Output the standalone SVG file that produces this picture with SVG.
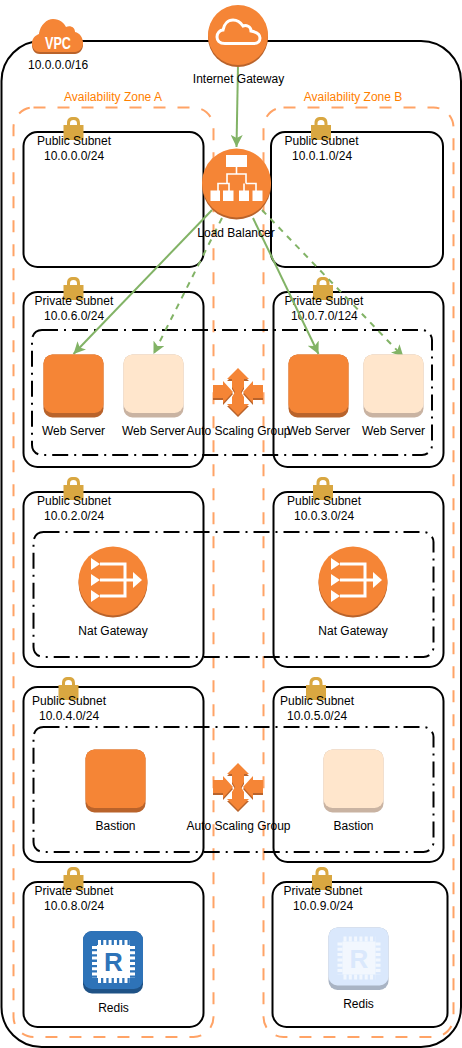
<svg xmlns="http://www.w3.org/2000/svg" xmlns:xlink="http://www.w3.org/1999/xlink" width="462" height="1048" viewBox="0 0 462 1048">
<style>
text{font-family:"Liberation Sans",Arial,sans-serif;font-size:12px;fill:#000}
.m{text-anchor:middle}
.az{font-size:12px;fill:#FF8000;text-anchor:middle}
.vpc{fill:none;stroke:#000;stroke-width:2}
.zone{fill:none;stroke:#FFA366;stroke-width:2;stroke-dasharray:12 12}
.sub{fill:none;stroke:#000;stroke-width:2}
.asg{fill:none;stroke:#000;stroke-width:2;stroke-dasharray:16 6 2 6}
.c{stroke:#82B366;stroke-width:2;fill:none;marker-end:url(#arrow)}
.d{stroke-dasharray:6 6}
.o{fill:#F58536}
.os{fill:#B9632B}
.w{fill:#fff}
.wl{fill:none;stroke:#fff;stroke-width:1.6}
</style>
<defs>
<marker id="arrow" markerUnits="userSpaceOnUse" markerWidth="12" markerHeight="12" viewBox="0 0 12 12" refX="12" refY="6" orient="auto">
<path d="M0 0L12 6L0 12L3 6Z" fill="#82B366"/>
</marker>
<g id="lock">
<path d="M-6.500 7V3.500C-6.500-1.500-4.500-3-0-3C4.500-3 6.500-1.500 6.500 3.500V7H3.500V4C3.500 1 2.500 0-0 0C-2.500 0-3.500 1-3.500 4V7Z" fill="#D9A741"/>
<rect x="-10" y="5" width="20" height="15" fill="#D9A741"/>
</g>
<g id="server">
<rect x="0" y="0" width="60" height="63" rx="9" class="os"/>
<rect x="0" y="0" width="60" height="58.500" rx="9" class="o"/>
</g>
<g id="server-light">
<rect x="0" y="0" width="60" height="63" rx="9" fill="#C9B3A2"/>
<rect x="0" y="0" width="60" height="58.500" rx="9" fill="#FFE6CC"/>
</g>
<g id="nat">
<circle cx="0" cy="2" r="34.500" class="os"/>
<circle cx="0" cy="0" r="34.500" class="o"/>
<path d="M-22-23L-13-17L-22-11ZM-22-7L-13-1L-22 5ZM-22 9L-13 15L-22 21ZM20-9L29-1L20 7Z" class="w"/>
<path d="M-13-17H12V15H-13M-13-1H21" fill="none" stroke="#fff" stroke-width="3"/>
</g>
<path id="scalepath" d="M0-24L11-13H6V-5L3 0L6 5V12H11L0 23L-11 12H-6V5L-3 0L-6-5V-13H-11ZM-25-7H-15V-11L-5 0L-15 11V6H-25ZM25-7H15V-11L5 0L15 11V6H25Z"/>
<g id="scale">
<use xlink:href="#scalepath" y="2" class="os"/>
<use xlink:href="#scalepath" class="o"/>
</g>
<g id="redis">
<rect x="0" y="0" width="60" height="62.500" rx="9" fill="#1F5286"/>
<rect x="0" y="0" width="60" height="58" rx="9" fill="#2E73B8"/>
<rect x="14" y="14" width="33" height="33" class="w"/>
<path d="M15 11.500H47M15 49.500H47" fill="none" stroke="#fff" stroke-width="5" stroke-dasharray="3 2.300"/>
<path d="M11.500 15V47M49.500 15V47" fill="none" stroke="#fff" stroke-width="5" stroke-dasharray="3 2.300"/>
<text x="30.500" y="40" class="m" style="font-size:26px;font-weight:bold;fill:#2E73B8">R</text>
</g>
<g id="redis-light">
<rect x="0" y="0" width="60" height="62.500" rx="9" fill="#A9B4C4"/>
<rect x="0" y="0" width="60" height="58" rx="9" fill="#DAE8FC"/>
<rect x="14" y="14" width="33" height="33" fill="#F2F7FE"/>
<path d="M15 11.500H47M15 49.500H47" fill="none" stroke="#F2F7FE" stroke-width="5" stroke-dasharray="3 2.300"/>
<path d="M11.500 15V47M49.500 15V47" fill="none" stroke="#F2F7FE" stroke-width="5" stroke-dasharray="3 2.300"/>
<text x="30.500" y="40" class="m" style="font-size:26px;font-weight:bold;fill:#DAE8FC">R</text>
</g>
</defs>

<rect id="vpc-box" class="vpc" x="1.500" y="41" width="459.500" height="1006" rx="40"/>
<g id="zone-a"><rect class="zone" x="13.500" y="107.500" width="200" height="929.500" rx="20"/><text class="az" x="113" y="101">Availability Zone A</text></g>
<g id="zone-b"><rect class="zone" x="263.500" y="107.500" width="190" height="929.500" rx="20"/><text class="az" x="353" y="101">Availability Zone B</text></g>

<g id="subnet-public-a">
<rect class="sub" x="23.500" y="132" width="180" height="135" rx="14"/><use xlink:href="#lock" x="73.500" y="120"/>
<text x="37" y="145">Public Subnet</text><text x="44" y="160">10.0.0.0/24</text></g>
<g id="subnet-public-b">
<rect class="sub" x="271" y="132" width="172" height="135" rx="14"/><use xlink:href="#lock" x="321" y="120"/>
<text x="284.500" y="145">Public Subnet</text><text x="292" y="160">10.0.1.0/24</text></g>
<g id="subnet-private-6">
<rect class="sub" x="23.500" y="292" width="180" height="175" rx="14"/><use xlink:href="#lock" x="73.500" y="280"/>
<text x="34.500" y="305">Private Subnet</text><text x="44" y="320">10.0.6.0/24</text></g>
<g id="subnet-private-7">
<rect class="sub" x="273.500" y="292" width="170" height="175" rx="14"/><use xlink:href="#lock" x="323" y="280"/>
<text x="284.500" y="305">Private Subnet</text><text x="291" y="320">10.0.7.0/124</text></g>
<g id="subnet-public-2">
<rect class="sub" x="23.500" y="492" width="180" height="175" rx="14"/><use xlink:href="#lock" x="73.500" y="480"/>
<text x="37" y="505">Public Subnet</text><text x="44" y="520">10.0.2.0/24</text></g>
<g id="subnet-public-3">
<rect class="sub" x="273.500" y="492" width="170" height="175" rx="14"/><use xlink:href="#lock" x="323" y="480"/>
<text x="287" y="505">Public Subnet</text><text x="294" y="520">10.0.3.0/24</text></g>
<g id="subnet-public-4">
<rect class="sub" x="23.500" y="687" width="180" height="175" rx="14"/><use xlink:href="#lock" x="68.500" y="680"/>
<text x="32" y="705">Public Subnet</text><text x="39" y="720">10.0.4.0/24</text></g>
<g id="subnet-public-5">
<rect class="sub" x="273.500" y="687" width="170" height="175" rx="14"/><use xlink:href="#lock" x="316" y="680"/>
<text x="280" y="705">Public Subnet</text><text x="287" y="720">10.0.5.0/24</text></g>
<g id="subnet-private-8">
<rect class="sub" x="23.500" y="882" width="180" height="145" rx="14"/><use xlink:href="#lock" x="73.500" y="870"/>
<text x="34.500" y="895">Private Subnet</text><text x="44" y="910">10.0.8.0/24</text></g>
<g id="subnet-private-9">
<rect class="sub" x="272.500" y="882" width="175" height="145" rx="14"/><use xlink:href="#lock" x="322" y="870"/>
<text x="283.500" y="895">Private Subnet</text><text x="293" y="910">10.0.9.0/24</text></g>

<rect id="asg-web" class="asg" x="32" y="330" width="400" height="125" rx="10"/>
<rect id="asg-nat" class="asg" x="33.500" y="532" width="400" height="125" rx="10"/>
<rect id="asg-bastion" class="asg" x="33.500" y="727" width="400" height="125" rx="10"/>

<g id="connectors">
<path class="c" d="M238 65L236.500 147"/>
<path class="c" d="M212 210L73.500 354"/>
<path class="c d" d="M222 218L153.500 354"/>
<path class="c" d="M253 218L318.500 354"/>
<path class="c d" d="M262 210L403.500 357"/>
</g>

<g id="vpc">
<path transform="translate(0,2)" class="os" d="M40 52C34 52 32 47 32 43C32 38 36 35 39 34C40 25 47 19 53 19C60 19 64 23 66 27C70 25 75 27 75 32C80 33 83 38 83 43C83 48 79 52 75 52Z"/>
<path class="o" d="M40 52C34 52 32 47 32 43C32 38 36 35 39 34C40 25 47 19 53 19C60 19 64 23 66 27C70 25 75 27 75 32C80 33 83 38 83 43C83 48 79 52 75 52Z"/>
<text x="58" y="49" class="m" textLength="26" lengthAdjust="spacingAndGlyphs" style="font-size:17px;font-weight:bold;fill:#fff">VPC</text>
<text x="28" y="69">10.0.0.0/16</text>
</g>
<g id="internet-gateway">
<circle cx="238" cy="37" r="30" class="os"/><circle cx="238" cy="35" r="30" class="o"/>
<path d="M225 43.500C219 43.500 217 40 217 37C217 33 220 30 223 30C224 24 228 20 233 20C238 20 241 23 243 26C246 25 251 26 251 31C256 32 260 34 260 38C260 41 258 43.500 254 43.500Z" fill="none" stroke="#fff" stroke-width="3"/>
<text x="238.500" y="83" class="m">Internet Gateway</text>
</g>
<g id="load-balancer">
<circle cx="236.500" cy="185" r="34.500" class="os"/><circle cx="236.500" cy="183" r="34.500" class="o"/>
<rect x="226" y="155" width="21" height="12" class="w"/>
<rect x="210.500" y="190.500" width="9.500" height="10.500" class="w"/><rect x="223" y="190.500" width="10.500" height="10.500" class="w"/><rect x="239" y="190.500" width="10" height="10.500" class="w"/><rect x="252.500" y="190.500" width="10" height="10.500" class="w"/>
<path class="wl" d="M236.500 167V174M218 191V183.500H229V191M218 183.500H227V174H246V183.500M246 183.500H256V191M244 191V183.500"/>
<text x="236" y="237" class="m">Load Balancer</text>
</g>
<g id="web-a1"><use xlink:href="#server" x="43.500" y="354.500"/><text x="73.500" y="435" class="m">Web Server</text></g>
<g id="web-a2"><use xlink:href="#server-light" x="123.500" y="354.500"/><text x="153.500" y="435" class="m">Web Server</text></g>
<g id="web-b1"><use xlink:href="#server" x="288.500" y="354.500"/><text x="318.500" y="435" class="m">Web Server</text></g>
<g id="web-b2"><use xlink:href="#server-light" x="363.500" y="354.500"/><text x="393.500" y="435" class="m">Web Server</text></g>
<g id="scaling-web"><use xlink:href="#scale" x="238" y="392"/><text x="238.500" y="435" class="m">Auto Scaling Group</text></g>
<g id="nat-a"><use xlink:href="#nat" x="113" y="581"/><text x="113" y="635" class="m">Nat Gateway</text></g>
<g id="nat-b"><use xlink:href="#nat" x="353" y="581"/><text x="353" y="635" class="m">Nat Gateway</text></g>
<g id="bastion-a"><use xlink:href="#server" x="85.500" y="749.500"/><text x="115.500" y="830" class="m">Bastion</text></g>
<g id="bastion-b"><use xlink:href="#server-light" x="323.500" y="749.500"/><text x="353.500" y="830" class="m">Bastion</text></g>
<g id="scaling-bastion"><use xlink:href="#scale" x="238" y="787"/><text x="238.500" y="830" class="m">Auto Scaling Group</text></g>
<g id="redis-a"><use xlink:href="#redis" x="83" y="931"/><text x="113.500" y="1012" class="m">Redis</text></g>
<g id="redis-b"><use xlink:href="#redis-light" x="328.500" y="927.500"/><text x="358.500" y="1008" class="m">Redis</text></g>
</svg>
